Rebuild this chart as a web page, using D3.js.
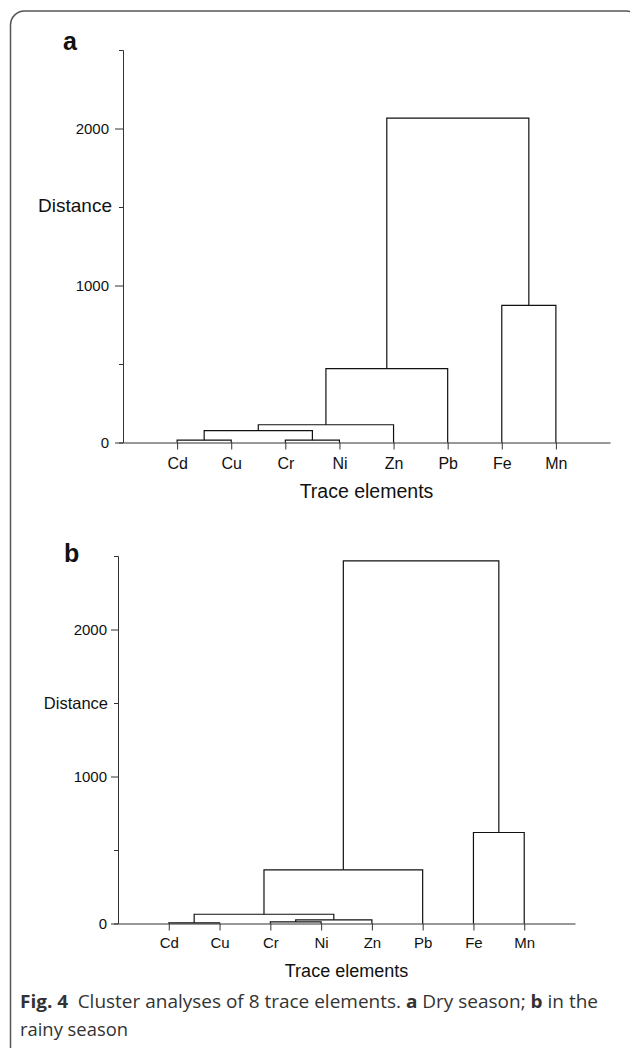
<!DOCTYPE html>
<html>
<head>
<meta charset="utf-8">
<script src="https://cdn.jsdelivr.net/npm/d3@7"></script>
<style>
  body { margin: 0; background: #fff; }
  svg { display: block; }
</style>
</head>
<body>
<svg id="mySVG"></svg>
<script>
// Leaves of both dendrograms (same order in a and b)
var elements = ["Cd", "Cu", "Cr", "Ni", "Zn", "Pb", "Fe", "Mn"];

// Merges as [left id, right id, distance]; ids 0-7 are leaves, 8+ are the merges in order
var dryMerges = [
  [0, 1, 15],
  [2, 3, 15],
  [8, 9, 76],
  [10, 4, 113],
  [11, 5, 471],
  [6, 7, 873],
  [12, 13, 2066]
];
var rainyMerges = [
  [0, 1, 4],
  [2, 3, 11],
  [9, 4, 25],
  [8, 10, 63],
  [11, 5, 365],
  [6, 7, 619],
  [12, 13, 2467]
];

var majorTicks = [0, 1000, 2000];
var minorTicks = [500, 1500];
var yMax = 2500;

var width = 630, height = 1048;
var font = "'Liberation Sans', Arial, sans-serif";

var svg = d3.select("#mySVG")
  .attr("width", width)
  .attr("height", height);

// rounded frame round the whole figure
svg.append("rect")
  .attr("x", 10.5).attr("y", 11)
  .attr("width", 630).attr("height", 1060)
  .attr("rx", 14)
  .style("fill", "none")
  .style("stroke", "#555")
  .style("stroke-width", 1.5);

var panels = [
  {letter: "a", merges: dryMerges, left: 123, right: 610, top: 50, bottom: 442.5,
   tick: 8, tickPad: 6, tickFont: 15, leafFont: 16, leafPad: 8,
   yLabel: {x: 112, y: 212, size: 19},
   xLabel: {y: 498, size: 19.5}, letterPos: [63, 50]},
  {letter: "b", merges: rainyMerges, left: 118, right: 575, top: 556, bottom: 923.5,
   tick: 7, tickPad: 4, tickFont: 15, leafFont: 15, leafPad: 7,
   yLabel: {x: 108, y: 709, size: 16.5},
   xLabel: {y: 977, size: 18}, letterPos: [64, 562]}
];

panels.forEach(function(p) {
  var g = svg.append("g");

  var x = d3.scalePoint()
    .domain(elements)
    .range([p.left, p.right])
    .padding(1);

  var y = d3.scaleLinear()
    .domain([0, yMax])
    .range([p.bottom, p.top]);

  // y axis: labelled major ticks and short unlabelled minor ones
  g.append("g")
    .attr("transform", "translate(" + p.left + ",0)")
    .call(d3.axisLeft(y).tickValues(majorTicks).tickSize(p.tick)
      .tickSizeOuter(4).tickPadding(p.tickPad).tickFormat(d3.format("d")))
    .call(function(a) {
      a.select(".domain").style("stroke", "#333");
      a.selectAll("line").style("stroke", "#333");
      a.selectAll("text").style("font-family", font)
        .style("font-size", p.tickFont + "px").style("fill", "#111");
    });
  g.append("g")
    .attr("transform", "translate(" + p.left + ",0)")
    .call(d3.axisLeft(y).tickValues(minorTicks).tickSize(4)
      .tickSizeOuter(0).tickFormat(""))
    .call(function(a) {
      a.select(".domain").remove();
      a.selectAll("line").style("stroke", "#333");
    });

  // x axis with the element names
  g.append("g")
    .attr("transform", "translate(0," + p.bottom + ")")
    .call(d3.axisBottom(x).tickSize(7).tickSizeOuter(0).tickPadding(p.leafPad))
    .call(function(a) {
      a.select(".domain").style("stroke", "#333");
      a.selectAll("line").style("stroke", "#333");
      a.selectAll("text").style("font-family", font)
        .style("font-size", p.leafFont + "px").style("fill", "#111");
    });

  // dendrogram links
  var nodes = elements.map(function(e) { return {x: x(e), h: 0}; });
  p.merges.forEach(function(m) {
    var l = nodes[m[0]], r = nodes[m[1]];
    g.append("path")
      .attr("d", "M" + l.x + "," + y(l.h) + "V" + y(m[2]) + "H" + r.x + "V" + y(r.h))
      .style("fill", "none")
      .style("stroke", "#111")
      .style("stroke-width", 1.2);
    nodes.push({x: (l.x + r.x) / 2, h: m[2]});
  });

  g.append("text")
    .attr("x", p.yLabel.x).attr("y", p.yLabel.y)
    .style("text-anchor", "end")
    .style("font-family", font)
    .style("font-size", p.yLabel.size + "px")
    .style("fill", "#111")
    .text("Distance");

  g.append("text")
    .attr("x", (p.left + p.right) / 2).attr("y", p.xLabel.y)
    .style("text-anchor", "middle")
    .style("font-family", font)
    .style("font-size", p.xLabel.size + "px")
    .style("fill", "#111")
    .text("Trace elements");

  g.append("text")
    .attr("x", p.letterPos[0]).attr("y", p.letterPos[1])
    .style("font-family", font)
    .style("font-weight", "bold")
    .style("font-size", "25px")
    .style("fill", "#111")
    .text(p.letter);
});

// caption
var capFont = "'Open Sans', 'Noto Sans', sans-serif";
var cap1 = svg.append("text")
  .attr("x", 20).attr("y", 1008)
  .attr("textLength", 578)
  .attr("lengthAdjust", "spacingAndGlyphs")
  .style("font-family", capFont)
  .style("font-size", "18px")
  .style("fill", "#333");
cap1.append("tspan").style("font-weight", "bold").text("Fig. 4");
cap1.append("tspan").text("\u2002Cluster analyses of 8 trace elements. ");
cap1.append("tspan").style("font-weight", "bold").text("a");
cap1.append("tspan").text(" Dry season; ");
cap1.append("tspan").style("font-weight", "bold").text("b");
cap1.append("tspan").text(" in the");

svg.append("text")
  .attr("x", 20).attr("y", 1036)
  .attr("textLength", 108)
  .attr("lengthAdjust", "spacingAndGlyphs")
  .style("font-family", capFont)
  .style("font-size", "18px")
  .style("fill", "#333")
  .text("rainy season");
</script>
</body>
</html>
